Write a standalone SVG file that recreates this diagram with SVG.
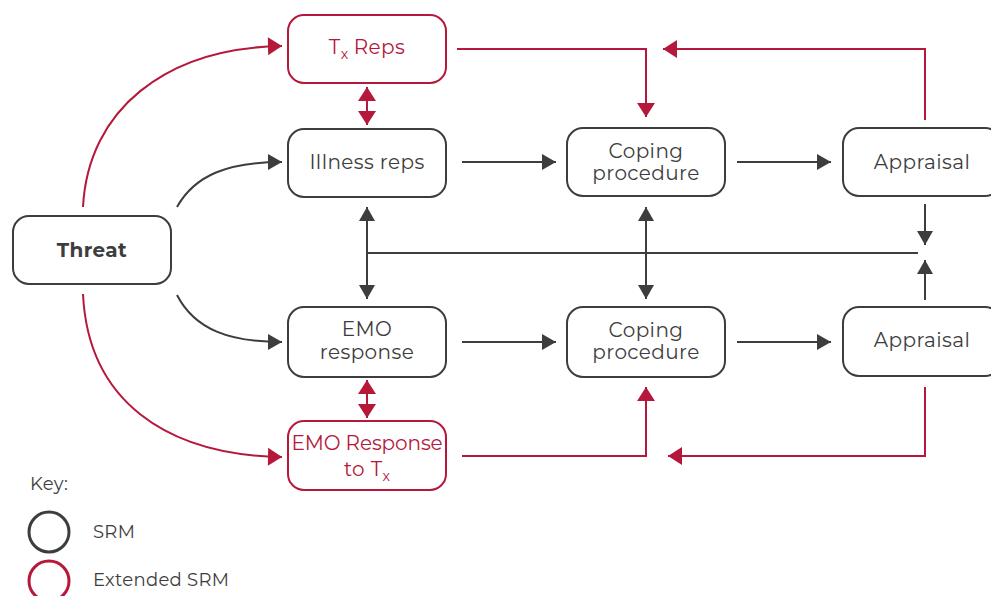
<svg xmlns="http://www.w3.org/2000/svg" width="991" height="596" viewBox="0 0 991 596">
  <style>
    .box { fill: #ffffff; stroke: #3d3d3d; stroke-width: 2; }
    .box.ext { stroke: #b5183a; }
    .lbl { font-family: "Montserrat", "Noto Sans", "Liberation Sans", sans-serif; font-size: 20px; letter-spacing: 0.4px; fill: #3d3d3d; text-anchor: middle; }
    .lbl.ext { fill: #b5183a; }
    .lbl.tight { letter-spacing: -0.1px; }
    .bold { font-weight: bold; }
    .sub { font-size: 14px; letter-spacing: 0; }
    .dk { fill: none; stroke: #3d3d3d; stroke-width: 2; }
    .rd { fill: none; stroke: #b5183a; stroke-width: 2; }
    .key { font-family: "Montserrat", "Noto Sans", "Liberation Sans", sans-serif; font-size: 18px; letter-spacing: 0.3px; fill: #3d3d3d; }
  </style>
  <defs>
    <marker id="ah-dk" markerUnits="userSpaceOnUse" markerWidth="16" markerHeight="16" viewBox="0 0 16 16" refX="15" refY="8" orient="auto-start-reverse">
      <path d="M1,0 L15,8 L1,16 Z" fill="#3d3d3d"/>
    </marker>
    <marker id="ah-rd" markerUnits="userSpaceOnUse" markerWidth="16" markerHeight="18" viewBox="0 0 16 18" refX="15" refY="9" orient="auto-start-reverse">
      <path d="M1,0 L15,9 L1,18 Z" fill="#b5183a"/>
    </marker>
  </defs>

  <!-- connectors -->
  <g id="connectors">
    <!-- from Threat -->
    <path class="rd" d="M83,207 C88,110 165,48 282,46" marker-end="url(#ah-rd)"/>
    <path class="dk" d="M177,207 C195,175 228,162 282,162" marker-end="url(#ah-dk)"/>
    <path class="dk" d="M177,295 C195,330 230,342 282,342" marker-end="url(#ah-dk)"/>
    <path class="rd" d="M83,294 C88,400 165,455 282,457" marker-end="url(#ah-rd)"/>

    <!-- horizontal flow -->
    <line class="dk" x1="462" y1="162" x2="556" y2="162" marker-end="url(#ah-dk)"/>
    <line class="dk" x1="737" y1="162" x2="831" y2="162" marker-end="url(#ah-dk)"/>
    <line class="dk" x1="462" y1="342" x2="556" y2="342" marker-end="url(#ah-dk)"/>
    <line class="dk" x1="737" y1="342" x2="831" y2="342" marker-end="url(#ah-dk)"/>

    <!-- red links between rows -->
    <line class="rd" x1="367" y1="87" x2="367" y2="125" marker-start="url(#ah-rd)" marker-end="url(#ah-rd)"/>
    <line class="rd" x1="367" y1="380" x2="367" y2="418" marker-start="url(#ah-rd)" marker-end="url(#ah-rd)"/>

    <!-- red feedback loops -->
    <path class="rd" d="M457,49 H646 V117" marker-end="url(#ah-rd)"/>
    <path class="rd" d="M925,120 V49 H663" marker-end="url(#ah-rd)"/>
    <path class="rd" d="M462,456 H646 V387" marker-end="url(#ah-rd)"/>
    <path class="rd" d="M925,387 V456 H668" marker-end="url(#ah-rd)"/>

    <!-- central cross-links -->
    <line class="dk" x1="367" y1="207" x2="367" y2="299" marker-start="url(#ah-dk)" marker-end="url(#ah-dk)"/>
    <line class="dk" x1="646" y1="207" x2="646" y2="299" marker-start="url(#ah-dk)" marker-end="url(#ah-dk)"/>
    <line class="dk" x1="367" y1="253" x2="918" y2="253"/>
    <line class="dk" x1="925" y1="204" x2="925" y2="245" marker-end="url(#ah-dk)"/>
    <line class="dk" x1="925" y1="300" x2="925" y2="260" marker-end="url(#ah-dk)"/>
  </g>

  <!-- nodes -->
  <g id="threat">
    <rect class="box" x="13" y="216" width="158" height="68" rx="16"/>
    <text class="lbl bold" x="92" y="257">Threat</text>
  </g>
  <g id="tx-reps">
    <rect class="box ext" x="288" y="15" width="158" height="68" rx="16"/>
    <text class="lbl ext" x="367" y="54">T<tspan class="sub" dy="5">x</tspan><tspan dy="-5"> Reps</tspan></text>
  </g>
  <g id="illness-reps">
    <rect class="box" x="288" y="129" width="158" height="68" rx="16"/>
    <text class="lbl" x="367" y="169">Illness reps</text>
  </g>
  <g id="coping-top">
    <rect class="box" x="567" y="128" width="158" height="68" rx="16"/>
    <text class="lbl" x="646" y="158">Coping</text>
    <text class="lbl" x="646" y="180">procedure</text>
  </g>
  <g id="appraisal-top">
    <rect class="box" x="843" y="128" width="158" height="68" rx="16"/>
    <text class="lbl" x="922" y="169">Appraisal</text>
  </g>
  <g id="emo-response">
    <rect class="box" x="288" y="307" width="158" height="70" rx="16"/>
    <text class="lbl" x="367" y="336">EMO</text>
    <text class="lbl" x="367" y="359">response</text>
  </g>
  <g id="coping-bottom">
    <rect class="box" x="567" y="307" width="158" height="70" rx="16"/>
    <text class="lbl" x="646" y="337">Coping</text>
    <text class="lbl" x="646" y="359">procedure</text>
  </g>
  <g id="appraisal-bottom">
    <rect class="box" x="843" y="307" width="158" height="69" rx="16"/>
    <text class="lbl" x="922" y="347">Appraisal</text>
  </g>
  <g id="emo-response-tx">
    <rect class="box ext" x="288" y="421" width="158" height="69" rx="16"/>
    <text class="lbl ext tight" x="367" y="450">EMO Response</text>
    <text class="lbl ext" x="367" y="476">to T<tspan class="sub" dy="5">x</tspan></text>
  </g>

  <!-- key -->
  <g id="key">
    <text class="key" x="30" y="490">Key:</text>
    <circle cx="49" cy="532" r="20" fill="none" stroke="#3d3d3d" stroke-width="3"/>
    <text class="key" x="93" y="538">SRM</text>
    <circle cx="49" cy="581" r="20" fill="none" stroke="#b5183a" stroke-width="3"/>
    <text class="key" x="93" y="586">Extended SRM</text>
  </g>
</svg>
